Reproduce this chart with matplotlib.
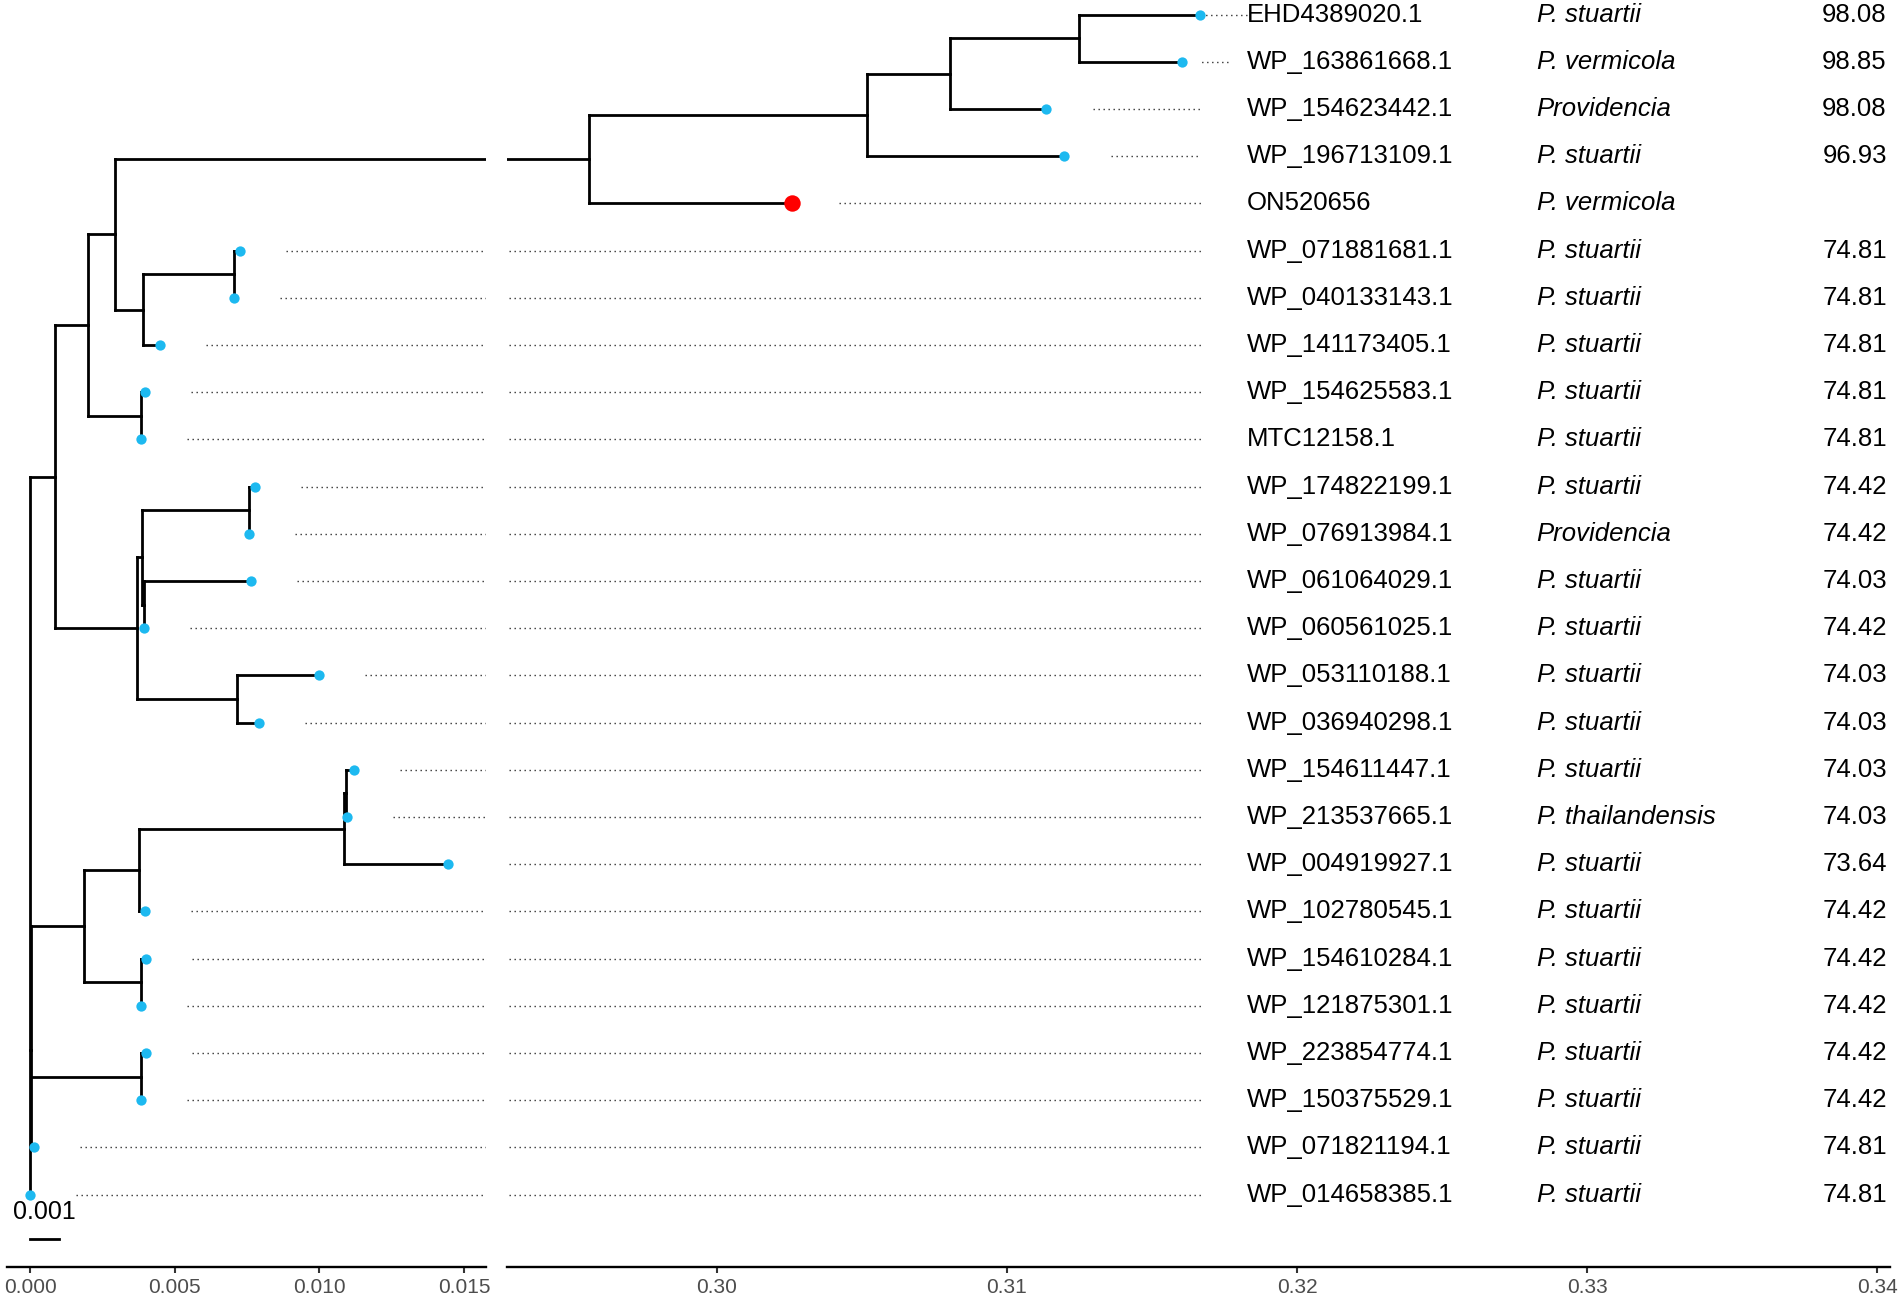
import matplotlib.pyplot as plt

plt.rcParams['font.family'] = ['Liberation Sans', 'DejaVu Sans']

# Datos de las puntas (de arriba hacia abajo)
tip_ids = ['EHD4389020.1', 'WP_163861668.1', 'WP_154623442.1', 'WP_196713109.1',
           'ON520656', 'WP_071881681.1', 'WP_040133143.1', 'WP_141173405.1',
           'WP_154625583.1', 'MTC12158.1', 'WP_174822199.1', 'WP_076913984.1',
           'WP_061064029.1', 'WP_060561025.1', 'WP_053110188.1', 'WP_036940298.1',
           'WP_154611447.1', 'WP_213537665.1', 'WP_004919927.1', 'WP_102780545.1',
           'WP_154610284.1', 'WP_121875301.1', 'WP_223854774.1', 'WP_150375529.1',
           'WP_071821194.1', 'WP_014658385.1']
tip_species = ['P. stuartii', 'P. vermicola', 'Providencia', 'P. stuartii',
               'P. vermicola', 'P. stuartii', 'P. stuartii', 'P. stuartii',
               'P. stuartii', 'P. stuartii', 'P. stuartii', 'Providencia',
               'P. stuartii', 'P. stuartii', 'P. stuartii', 'P. stuartii',
               'P. stuartii', 'P. thailandensis', 'P. stuartii', 'P. stuartii',
               'P. stuartii', 'P. stuartii', 'P. stuartii', 'P. stuartii',
               'P. stuartii', 'P. stuartii']
tip_identity = ['98.08', '98.85', '98.08', '96.93', '', '74.81', '74.81', '74.81',
                '74.81', '74.81', '74.42', '74.42', '74.03', '74.42', '74.03', '74.03',
                '74.03', '74.03', '73.64', '74.42', '74.42', '74.42', '74.42', '74.42',
                '74.81', '74.81']
tip_x = [0.31666, 0.31603, 0.31135, 0.31197, 0.30259, 0.00726, 0.00705, 0.00449,
         0.00397, 0.00384, 0.00778, 0.00757, 0.00764, 0.00394, 0.00999, 0.00791,
         0.01120, 0.01096, 0.01445, 0.00397, 0.00401, 0.00384, 0.00401, 0.00384,
         0.00014, 0.0]
query_tip = 4

# Nodos internos: nombre -> posicion x, hijos (int = punta, str = nodo)
node_x = {'I': 0.31248, 'H': 0.30803, 'G': 0.30517, 'E': 0.29559,
          'N56': 0.00705, 'F': 0.0039, 'D': 0.00294, 'N89': 0.00384, 'B': 0.0020,
          'N1011': 0.00757, 'N5': 0.00394, 'N2': 0.00387, 'N3': 0.00715,
          'N1': 0.0037, 'C': 0.00086, 'N7': 0.01092, 'N6': 0.01085,
          'N8': 0.00377, 'N10': 0.00384, 'N9': 0.00187, 'N11': 0.00384,
          'S': 0.00004, 'R': 0.0}
node_children = {'I': [0, 1], 'H': ['I', 2], 'G': ['H', 3], 'E': ['G', 4],
                 'N56': [5, 6], 'F': ['N56', 7], 'D': ['E', 'F'], 'N89': [8, 9],
                 'B': ['D', 'N89'], 'N1011': [10, 11], 'N5': [12, 13],
                 'N2': ['N1011', 'N5'], 'N3': [14, 15], 'N1': ['N2', 'N3'],
                 'C': ['B', 'N1'], 'N7': [16, 17], 'N6': ['N7', 18], 'N8': ['N6', 19],
                 'N10': [20, 21], 'N9': ['N8', 'N10'], 'N11': [22, 23],
                 'S': ['N9', 'N11', 24], 'R': ['C', 'S', 25]}

n_tips = len(tip_ids)
align_x = 0.31669
tip_gap = 0.0016


def pos(k):
    if isinstance(k, int):
        return tip_x[k], n_tips - 1 - k
    ys = [pos(c)[1] for c in node_children[k]]
    return node_x[k], sum(ys) / len(ys)


fig = plt.figure(figsize=(19.02, 13.0), dpi=100)
ax_l = fig.add_axes([7 / 1902, 33 / 1300, 479 / 1902, 1267 / 1300])
ax_r = fig.add_axes([507 / 1902, 33 / 1300, 1383 / 1902, 1267 / 1300])

for ax in (ax_l, ax_r):
    # ramas
    for name, kids in node_children.items():
        nx, ny = pos(name)
        kid_pos = [pos(c) for c in kids]
        ys = [p[1] for p in kid_pos]
        ax.plot([nx, nx], [min(ys), max(ys)], color='black', lw=2.0,
                solid_capstyle='projecting')
        for cx, cy in kid_pos:
            ax.plot([nx, cx], [cy, cy], color='black', lw=2.0,
                    solid_capstyle='projecting')
    # lineas punteadas alineadas
    for i in range(n_tips):
        y = n_tips - 1 - i
        ax.plot([tip_x[i] + tip_gap, align_x], [y, y], color='#333333', lw=1.0,
                linestyle=(0, (1, 2.6)))
    # puntas
    xs = [tip_x[i] for i in range(n_tips) if i != query_tip]
    ys = [n_tips - 1 - i for i in range(n_tips) if i != query_tip]
    ax.scatter(xs, ys, s=55, color='#1DB9F0', zorder=5, linewidths=0)
    ax.scatter([tip_x[query_tip]], [n_tips - 1 - query_tip], s=140, color='#FF0000',
               zorder=6, linewidths=0)

    ax.set_ylim(-1.534, 25.31)
    for side in ('top', 'left', 'right'):
        ax.spines[side].set_visible(False)
    ax.spines['bottom'].set_linewidth(1.7)
    ax.set_yticks([])
    ax.tick_params(axis='x', length=4, width=1.5, labelsize=15, colors='#333333',
                   labelcolor='#4D4D4D', pad=4)

ax_l.set_xlim(-0.000795, 0.01576)
ax_l.set_xticks([0.0, 0.005, 0.010, 0.015])
ax_l.set_xticklabels(['0.000', '0.005', '0.010', '0.015'])
ax_r.set_xlim(0.292759, 0.340448)
ax_r.set_xticks([0.30, 0.31, 0.32, 0.33, 0.34])
ax_r.set_xticklabels(['0.30', '0.31', '0.32', '0.33', '0.34'])

# etiquetas
for i in range(n_tips):
    y = n_tips - 1 - i
    ax_r.text(0.31826, y, tip_ids[i], fontsize=18.5, va='center', ha='left')
    ax_r.text(0.32826, y, tip_species[i], fontsize=18.5, va='center', ha='left',
              style='italic')
    ax_r.text(0.34034, y, tip_identity[i], fontsize=18.5, va='center', ha='right')

# barra de escala
ax_l.plot([0.0, 0.001], [-0.94, -0.94], color='black', lw=2.0)
ax_l.text(0.0005, -0.37, '0.001', fontsize=18, ha='center', va='center')

fig.savefig('out.png', dpi=100)
